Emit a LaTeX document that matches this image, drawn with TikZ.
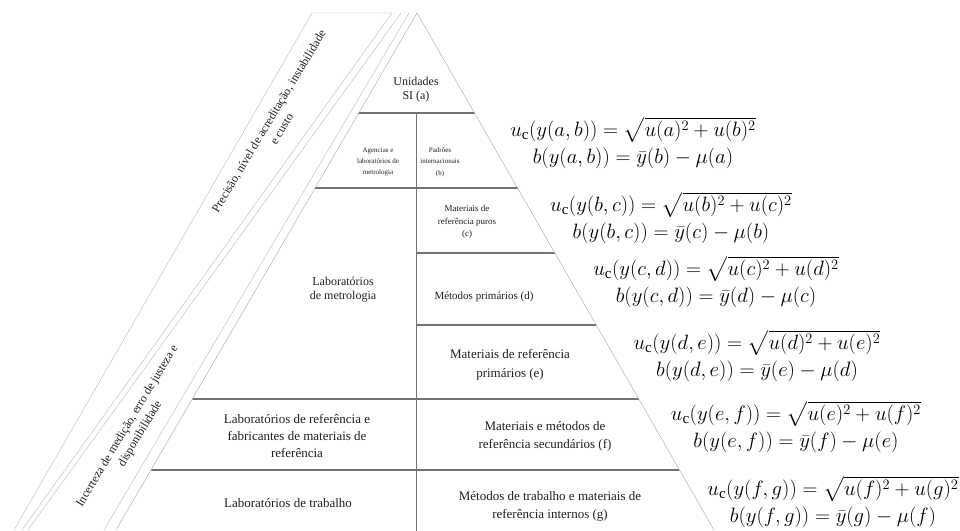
\documentclass[tikz,border=0pt]{standalone}
\usepackage{fontspec}
\setmainfont{Liberation Serif}
\usepackage{amsmath}
\usepackage{tikz}

\definecolor{bandgray}{gray}{0.72}
\definecolor{edgegray}{gray}{0.66}
\definecolor{rowgray}{gray}{0.45}
\definecolor{inkgray}{gray}{0.12}

\begin{document}
\begin{tikzpicture}[x=1pt, y=-1pt,
    cell/.style={align=center, inner sep=0pt, text=inkgray},
    eqn/.style={align=center, inner sep=0pt, text=black, font=\fontsize{21.5}{27.5}\selectfont}]

    %% Background
    \useasboundingbox (0,0) rectangle (960,530);
    \clip (0,0) rectangle (960,530);

    % Side bands
    \draw[bandgray] (14,530) -- (312,13) -- (392,13) -- (22,530);
    \draw[bandgray] (28,530) -- (401,13);
    \draw[bandgray] (104,530) -- (409,13);

    % Pyramid
    \draw[edgegray] (116,530) -- (417,13) -- (714,530);

    % Rows
    \begin{scope}
    \clip (116,531) -- (417,13) -- (714,531) -- cycle;
    \foreach \y in {113,188,399,470}
    {
    \draw[rowgray, line width=1.3pt] (100,\y) to (730,\y);
    }
    \foreach \y in {253,325}
    {
    \draw[rowgray, line width=1.3pt] (416,\y) to (730,\y);
    }
    \draw[rowgray] (416,113) to (416,531);
    \end{scope}

    % Band labels
    \node[cell, rotate=59, font=\fontsize{12}{15}\selectfont] (precisao) at (275,125)
        {Precisão, nível de acreditação, instabilidade\\ e custo};
    \node[cell, rotate=59, font=\fontsize{12}{15}\selectfont] (incerteza) at (134,430)
        {Incerteza de medição, erro de justeza e\\ disponibilidade};

    % Left column
    \node[cell, font=\fontsize{12}{14}\selectfont] (unidades) at (416,90) {Unidades\\ SI (a)};
    \node[cell, font=\fontsize{7}{11}\selectfont] (agencias) at (378,162) {Agencias e\\ laboratórios de\\ metrologia};
    \node[cell, font=\fontsize{12}{14}\selectfont] (labmetro) at (343,290) {Laboratórios\\ de metrologia};
    \node[cell, font=\fontsize{13}{17}\selectfont] (labref) at (297,436) {Laboratórios de referência e\\ fabricantes de materiais de\\ referência};
    \node[cell, font=\fontsize{13}{17}\selectfont] (labtrab) at (288,503) {Laboratórios de trabalho};

    % Right column
    \node[cell, font=\fontsize{7}{11.5}\selectfont] (padroes) at (440,162) {Padrões\\ internacionais\\ (b)};
    \node[cell, font=\fontsize{9}{12.8}\selectfont] (puros) at (467,222) {Materiais de\\ referência puros\\ (c)};
    \node[cell, font=\fontsize{11}{13}\selectfont] (primarios) at (484,297) {Métodos primários (d)};
    \node[cell, font=\fontsize{13}{19}\selectfont] (matprim) at (510,365) {Materiais de referência\\ primários (e)};
    \node[cell, font=\fontsize{13}{18}\selectfont] (secund) at (545,436) {Materiais e métodos de\\ referência secundários (f)};
    \node[cell, font=\fontsize{13}{18}\selectfont] (internos) at (550,506) {Métodos de trabalho e materiais de\\ referência internos (g)};

    % Equations
    \node[eqn] (eqab) at (633,143)
        {$u_{\mathrm{c}}(y(a,b)) = \sqrt{u(a)^2+u(b)^2}$\\ $b(y(a,b)) = \bar{y}(b) - \mu(a)$};
    \node[eqn] (eqbc) at (671,218)
        {$u_{\mathrm{c}}(y(b,c)) = \sqrt{u(b)^2+u(c)^2}$\\ $b(y(b,c)) = \bar{y}(c) - \mu(b)$};
    \node[eqn] (eqcd) at (716,282)
        {$u_{\mathrm{c}}(y(c,d)) = \sqrt{u(c)^2+u(d)^2}$\\ $b(y(c,d)) = \bar{y}(d) - \mu(c)$};
    \node[eqn] (eqde) at (757,356)
        {$u_{\mathrm{c}}(y(d,e)) = \sqrt{u(d)^2+u(e)^2}$\\ $b(y(d,e)) = \bar{y}(e) - \mu(d)$};
    \node[eqn] (eqef) at (796,427)
        {$u_{\mathrm{c}}(y(e,f)) = \sqrt{u(e)^2+u(f)^2}$\\ $b(y(e,f)) = \bar{y}(f) - \mu(e)$};
    \node[eqn] (eqfg) at (833,502)
        {$u_{\mathrm{c}}(y(f,g)) = \sqrt{u(f)^2+u(g)^2}$\\ $b(y(f,g)) = \bar{y}(g) - \mu(f)$};

\end{tikzpicture}
\end{document}
